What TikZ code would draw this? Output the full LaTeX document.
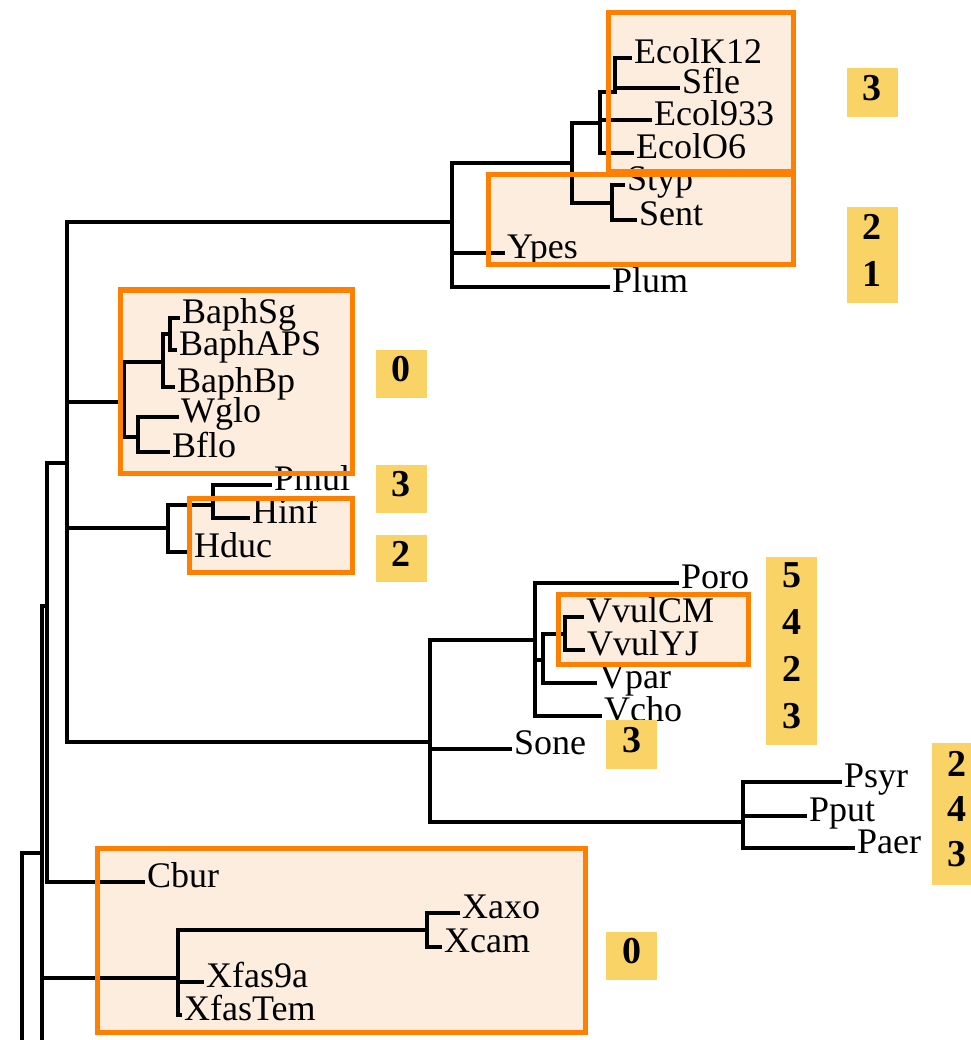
\documentclass[tikz,border=0pt]{standalone}
\usepackage{fontspec}
\setmainfont{Liberation Serif}
\usepackage{tikz}
\definecolor{cladeorange}{RGB}{255,128,0}
\definecolor{cladefill}{RGB}{253,237,222}
\definecolor{countyellow}{RGB}{249,211,102}

\begin{document}
\begin{tikzpicture}[x=1pt, y=-1pt,
        branch/.style={line width=4pt, line cap=rect},
        leaf/.style={anchor=west, inner sep=4pt, text height=11pt, text depth=0pt, font=\fontsize{36}{40}\selectfont},
        cladebox/.style={draw=cladeorange, line width=5pt},
        count/.style={fill=countyellow, inner sep=0pt, minimum width=51pt, align=center, text depth=10pt, font=\fontsize{38}{47}\selectfont\bfseries}]
    \useasboundingbox (0,0) rectangle (970,1040);

    % clade shading
    \fill[cladefill] (608,13) rectangle (793,172);
    \fill[cladefill] (488,175) rectangle (793,265);
    \fill[cladefill] (120,290) rectangle (352,473);
    \fill[cladefill] (189,498) rectangle (352,572);
    \fill[cladefill] (558,594) rectangle (748,664);
    \fill[cladefill] (97,848) rectangle (585,1032);

    % Enterobacteria
    \node[leaf] (EcolK12) at (630,58) {EcolK12};
    \node[leaf] (Sfle) at (678,88) {Sfle};
    \node[leaf] (Ecol933) at (650,120) {Ecol933};
    \node[leaf] (EcolO6) at (632,153) {EcolO6};
    \node[leaf] (Styp) at (623,185) {Styp};
    \node[leaf] (Sent) at (635,220) {Sent};
    \node[leaf] (Ypes) at (503,253) {Ypes};
    \node[leaf] (Plum) at (608,287) {Plum};

    \coordinate (nEK) at (615,92);
    \coordinate (nEc) at (600,123);
    \coordinate (nSal) at (612,203);
    \coordinate (nES) at (572,163);
    \coordinate (nEnt) at (452,222);

    \draw[branch] (nEK) |- (EcolK12) (nEK) |- (Sfle);
    \draw[branch] (nEc) |- (nEK) (nEc) |- (Ecol933) (nEc) |- (EcolO6);
    \draw[branch] (nSal) |- (Styp) (nSal) |- (Sent);
    \draw[branch] (nES) |- (nEc) (nES) |- (nSal);
    \draw[branch] (nEnt) |- (nES) (nEnt) |- (Ypes) (nEnt) |- (Plum);

    % Buchnera / Wigglesworthia
    \node[leaf] (BaphSg) at (178,318) {BaphSg};
    \node[leaf] (BaphAPS) at (175,350) {BaphAPS};
    \node[leaf] (BaphBp) at (173,387) {BaphBp};
    \node[leaf] (Wglo) at (177,417) {Wglo};
    \node[leaf] (Bflo) at (168,452) {Bflo};

    \coordinate (nB2) at (170,334);
    \coordinate (nB1) at (163,362);
    \coordinate (nWB) at (138,437);
    \coordinate (nBW) at (124,402);

    \draw[branch] (nB2) |- (BaphSg) (nB2) |- (BaphAPS);
    \draw[branch] (nB1) |- (nB2) (nB1) |- (BaphBp);
    \draw[branch] (nWB) |- (Wglo) (nWB) |- (Bflo);
    \draw[branch] (nBW) |- (nB1) (nBW) |- (nWB);

    % Pasteurellaceae
    \node[leaf] (Pmul) at (270,485) {Pmul};
    \node[leaf] (Hinf) at (248,518) {Hinf};
    \node[leaf] (Hduc) at (190,552) {Hduc};

    \coordinate (nPH) at (213,505);
    \coordinate (nPas) at (168,528);

    \draw[branch] (nPH) |- (Pmul) (nPH) |- (Hinf);
    \draw[branch] (nPas) |- (nPH) (nPas) |- (Hduc);

    % Vibrio, Shewanella, Pseudomonas
    \node[leaf] (Poro) at (677,583) {Poro};
    \node[leaf] (VvulCM) at (582,617) {VvulCM};
    \node[leaf] (VvulYJ) at (583,650) {VvulYJ};
    \node[leaf] (Vpar) at (595,683) {Vpar};
    \node[leaf] (Vcho) at (600,716) {Vcho};
    \node[leaf] (Sone) at (510,749) {Sone};
    \node[leaf] (Psyr) at (840,782) {Psyr};
    \node[leaf] (Pput) at (805,816) {Pput};
    \node[leaf] (Paer) at (853,848) {Paer};

    \coordinate (nVv) at (565,634);
    \coordinate (nV1) at (543,660);
    \coordinate (nV0) at (535,640);
    \coordinate (nPse) at (743,822);
    \coordinate (nVS) at (430,742);

    \draw[branch] (nVv) |- (VvulCM) (nVv) |- (VvulYJ);
    \draw[branch] (nV1) |- (nVv) (nV1) |- (Vpar);
    \draw[branch] (nV0) |- (Poro) (nV0) |- (nV1) (nV0) |- (Vcho);
    \draw[branch] (nPse) |- (Psyr) (nPse) |- (Pput) (nPse) |- (Paer);
    \draw[branch] (nVS) |- (nV0) (nVS) |- (Sone) (nVS) |- (nPse);

    % Coxiella, Xanthomonads
    \node[leaf] (Cbur) at (143,882) {Cbur};
    \node[leaf] (Xaxo) at (458,913) {Xaxo};
    \node[leaf] (Xcam) at (440,947) {Xcam};
    \node[leaf] (Xfas9a) at (202,982) {Xfas9a};
    \node[leaf] (XfasTem) at (180,1015) {XfasTem};

    \coordinate (nXa) at (427,930);
    \coordinate (nXan) at (178,978);

    \draw[branch] (nXa) |- (Xaxo) (nXa) |- (Xcam);
    \draw[branch] (nXan) |- (nXa) (nXan) |- (Xfas9a) (nXan) |- (XfasTem);

    % backbone
    \coordinate (nGam) at (67,463);
    \coordinate (nS1) at (47,606);
    \coordinate (nS2) at (42,853);
    \coordinate (nS2end) at (42,1060);
    \coordinate (nS3) at (22,1060);

    \draw[branch] (nGam) |- (nEnt) (nGam) |- (nBW) (nGam) |- (nPas) (nGam) |- (nVS);
    \draw[branch] (nS1) |- (nGam) (nS1) |- (Cbur);
    \draw[branch] (nS2) |- (nS1) (nS2) |- (nXan) (nS2) -- (nS2end);
    \draw[branch] (nS3) |- (nS2);

    % clade frames
    \draw[cladebox] (608,13) rectangle (793,172);
    \draw[cladebox] (488,175) rectangle (793,265);
    \draw[cladebox] (120,290) rectangle (352,473);
    \draw[cladebox] (189,498) rectangle (352,572);
    \draw[cladebox] (558,594) rectangle (748,664);
    \draw[cladebox] (97,848) rectangle (585,1032);

    % counts
    \node[count, minimum height=49pt] (cEc) at (872,92.5) {3};
    \node[count, minimum height=96pt] (cSY) at (872,255) {2\\1};
    \node[count, minimum height=48pt] (cBW) at (401,374) {0};
    \node[count, minimum height=48pt] (cPm) at (401,489) {3};
    \node[count, minimum height=47pt] (cHd) at (401,558.5) {2};
    \node[count, minimum height=188pt] (cVib) at (791.5,651) {5\\4\\2\\3};
    \node[count, minimum height=49pt] (cSo) at (631.5,744.5) {3};
    \node[count, minimum height=142pt, font=\fontsize{38}{45}\selectfont\bfseries] (cPse) at (957,814) {2\\4\\3};
    \node[count, minimum height=48pt] (cXan) at (631.5,956) {0};
\end{tikzpicture}
\end{document}
